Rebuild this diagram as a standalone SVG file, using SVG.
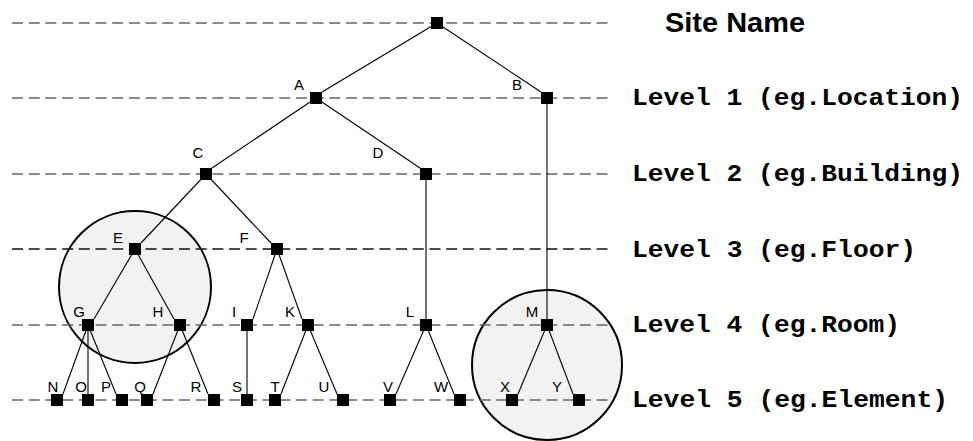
<svg xmlns="http://www.w3.org/2000/svg" width="973" height="441" viewBox="0 0 973 441">
  <style>
    .bg { fill: #ffffff; }
    .zone { fill: #f2f2f2; stroke: #000; stroke-width: 2; }
    .lvl { stroke: #666; stroke-width: 1.3; stroke-dasharray: 11 5.7; fill: none; }
    .lvl.dark { stroke: #111; }
    .edge { stroke: #000; stroke-width: 1.1; fill: none; }
    .node rect { fill: #000; }
    .lbl { font-family: "Liberation Sans", Arial, sans-serif; font-size: 15px; fill: #000; text-anchor: middle; }
    .title { font-family: "Liberation Sans", Arial, sans-serif; font-size: 27px; font-weight: bold; fill: #000; }
    .level { font-family: "Liberation Mono", "Courier New", monospace; font-size: 23px; font-weight: bold; fill: #000; }
  </style>
  <defs>
    <rect id="sq" x="-6" y="-6" width="12" height="12"/>
  </defs>

  <rect class="bg" x="0" y="0" width="973" height="441"/>

  <!-- highlighted sub-trees -->
  <g id="zones">
    <circle class="zone" cx="135" cy="287" r="76"/>
    <circle class="zone" cx="547" cy="365" r="75"/>
  </g>

  <!-- hierarchy level guide lines -->
  <g id="levels">
    <line class="lvl" x1="12" y1="23" x2="612" y2="23"/>
    <line class="lvl" x1="12" y1="98" x2="612" y2="98"/>
    <line class="lvl" x1="12" y1="174" x2="612" y2="174"/>
    <line class="lvl dark" x1="12" y1="249" x2="612" y2="249"/>
    <line class="lvl" x1="12" y1="325" x2="612" y2="325"/>
    <line class="lvl" x1="12" y1="400" x2="612" y2="400"/>
  </g>

  <!-- tree connectors: parent centre to child's near top corner -->
  <g id="connectors">
    <line class="edge" x1="437" y1="23" x2="322" y2="92"/>
    <line class="edge" x1="437" y1="23" x2="541" y2="92"/>
    <line class="edge" x1="316" y1="98" x2="212" y2="168"/>
    <line class="edge" x1="316" y1="98" x2="420" y2="168"/>
    <line class="edge" x1="547" y1="98" x2="547" y2="325"/>
    <line class="edge" x1="426" y1="174" x2="426" y2="325"/>
    <line class="edge" x1="206" y1="174" x2="141" y2="243"/>
    <line class="edge" x1="206" y1="174" x2="271" y2="243"/>
    <line class="edge" x1="135" y1="249" x2="94" y2="319"/>
    <line class="edge" x1="135" y1="249" x2="174" y2="319"/>
    <line class="edge" x1="277" y1="249" x2="253" y2="319"/>
    <line class="edge" x1="277" y1="249" x2="302" y2="319"/>
    <line class="edge" x1="88" y1="325" x2="63" y2="394"/>
    <line class="edge" x1="88" y1="325" x2="88" y2="400"/>
    <line class="edge" x1="88" y1="325" x2="116" y2="394"/>
    <line class="edge" x1="180" y1="325" x2="153" y2="394"/>
    <line class="edge" x1="180" y1="325" x2="208" y2="394"/>
    <line class="edge" x1="247" y1="325" x2="247" y2="400"/>
    <line class="edge" x1="308" y1="325" x2="281" y2="394"/>
    <line class="edge" x1="308" y1="325" x2="337" y2="394"/>
    <line class="edge" x1="426" y1="325" x2="396" y2="394"/>
    <line class="edge" x1="426" y1="325" x2="454" y2="394"/>
    <line class="edge" x1="547" y1="325" x2="518" y2="394"/>
    <line class="edge" x1="547" y1="325" x2="573" y2="394"/>
  </g>

  <!-- nodes -->
  <g id="node-root" class="node"><use href="#sq" x="437" y="23"/></g>
  <g id="node-A" class="node"><use href="#sq" x="316" y="98"/><text class="lbl" x="299" y="90">A</text></g>
  <g id="node-B" class="node"><use href="#sq" x="547" y="98"/><text class="lbl" x="517" y="90">B</text></g>
  <g id="node-C" class="node"><use href="#sq" x="206" y="174"/><text class="lbl" x="198" y="158">C</text></g>
  <g id="node-D" class="node"><use href="#sq" x="426" y="174"/><text class="lbl" x="378" y="158">D</text></g>
  <g id="node-E" class="node"><use href="#sq" x="135" y="249"/><text class="lbl" x="118" y="243">E</text></g>
  <g id="node-F" class="node"><use href="#sq" x="277" y="249"/><text class="lbl" x="244" y="243">F</text></g>
  <g id="node-G" class="node"><use href="#sq" x="88" y="325"/><text class="lbl" x="79" y="317">G</text></g>
  <g id="node-H" class="node"><use href="#sq" x="180" y="325"/><text class="lbl" x="158" y="317">H</text></g>
  <g id="node-I" class="node"><use href="#sq" x="247" y="325"/><text class="lbl" x="234" y="317">I</text></g>
  <g id="node-K" class="node"><use href="#sq" x="308" y="325"/><text class="lbl" x="290" y="317">K</text></g>
  <g id="node-L" class="node"><use href="#sq" x="426" y="325"/><text class="lbl" x="410" y="317">L</text></g>
  <g id="node-M" class="node"><use href="#sq" x="547" y="325"/><text class="lbl" x="532" y="317">M</text></g>
  <g id="node-N" class="node"><use href="#sq" x="57" y="400"/><text class="lbl" x="53" y="392">N</text></g>
  <g id="node-O" class="node"><use href="#sq" x="88" y="400"/><text class="lbl" x="81" y="392">O</text></g>
  <g id="node-P" class="node"><use href="#sq" x="122" y="400"/><text class="lbl" x="106" y="392">P</text></g>
  <g id="node-Q" class="node"><use href="#sq" x="147" y="400"/><text class="lbl" x="140" y="392">Q</text></g>
  <g id="node-R" class="node"><use href="#sq" x="214" y="400"/><text class="lbl" x="196" y="392">R</text></g>
  <g id="node-S" class="node"><use href="#sq" x="247" y="400"/><text class="lbl" x="237" y="392">S</text></g>
  <g id="node-T" class="node"><use href="#sq" x="275" y="400"/><text class="lbl" x="275" y="392">T</text></g>
  <g id="node-U" class="node"><use href="#sq" x="343" y="400"/><text class="lbl" x="324" y="392">U</text></g>
  <g id="node-V" class="node"><use href="#sq" x="390" y="400"/><text class="lbl" x="388" y="392">V</text></g>
  <g id="node-W" class="node"><use href="#sq" x="460" y="400"/><text class="lbl" x="441" y="392">W</text></g>
  <g id="node-X" class="node"><use href="#sq" x="512" y="400"/><text class="lbl" x="505" y="392">X</text></g>
  <g id="node-Y" class="node"><use href="#sq" x="579" y="400"/><text class="lbl" x="557" y="392">Y</text></g>

  <!-- level captions -->
  <g id="captions">
    <text class="title" x="665" y="31.5" textLength="140" lengthAdjust="spacingAndGlyphs">Site Name</text>
    <text class="level" x="632" y="105" textLength="331" lengthAdjust="spacingAndGlyphs">Level 1 (eg.Location)</text>
    <text class="level" x="632" y="181" textLength="331" lengthAdjust="spacingAndGlyphs">Level 2 (eg.Building)</text>
    <text class="level" x="632" y="256.5" textLength="284" lengthAdjust="spacingAndGlyphs">Level 3 (eg.Floor)</text>
    <text class="level" x="632" y="331.5" textLength="268" lengthAdjust="spacingAndGlyphs">Level 4 (eg.Room)</text>
    <text class="level" x="632" y="407" textLength="316" lengthAdjust="spacingAndGlyphs">Level 5 (eg.Element)</text>
  </g>
</svg>
